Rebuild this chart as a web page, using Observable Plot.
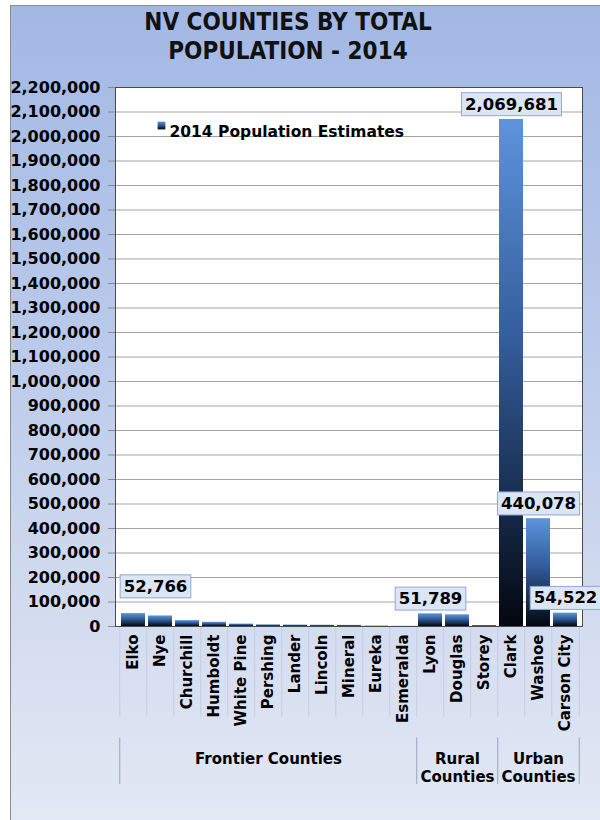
<!DOCTYPE html>
<html>
<head>
<meta charset="utf-8">
<script src="https://cdn.jsdelivr.net/npm/d3@7"></script>
<script src="https://cdn.jsdelivr.net/npm/@observablehq/plot@0.6"></script>
<style>
  body { margin: 0; background: white; }
  #chart { position: relative; width: 600px; height: 820px; overflow: hidden; background: white; font-family: "DejaVu Sans", Verdana, sans-serif; }
  #bg { position: absolute; left: 10px; top: 5px; right: 0; bottom: 0; border-left: 1px solid #8c8c8c; border-top: 1px solid #8c8c8c;
        background: linear-gradient(to bottom, #a2b8e4 0%, #b9c9ea 40%, #d3dcef 75%, #e2e8f4 100%); }
  #title { position: relative; height: 72px; box-sizing: border-box; padding-top: 8px; padding-right: 24px; text-align: center;
           font-size: 24px; line-height: 29px; font-weight: bold; font-stretch: condensed; color: #111; }
  #plot { position: relative; }
</style>
</head>
<body>
<div id="chart">
  <div id="bg"></div>
  <div id="title">NV COUNTIES BY TOTAL<br>POPULATION - 2014</div>
  <div id="plot"></div>
</div>
<script>
// ---- data ----
const counties = ["Elko","Nye","Churchill","Humboldt","White Pine","Pershing","Lander","Lincoln","Mineral","Eureka","Esmeralda","Lyon","Douglas","Storey","Clark","Washoe","Carson City"];
const population = [52766, 43000, 24000, 17000, 10000, 6700, 5900, 5200, 4500, 2000, 850, 51789, 47700, 4000, 2069681, 440078, 54522];
const labelledCounties = ["Lyon","Clark","Washoe","Carson City"];
const raisedLabelCounties = ["Elko"];
const groupNames = ["Frontier Counties","Rural\nCounties","Urban\nCounties"];
const groupMiddle = ["Pershing","Douglas","Washoe"];
const groupStarts = ["Elko","Lyon","Clark"];
const yTicks = d3.range(0, 2200001, 100000);
const seriesName = "2014 Population Estimates";

const data = counties.map((c, i) => ({county: c, pop: population[i]}));
const lab = d => ({county: d.county, pop: d.pop, text: d3.format(",")(d.pop)});
const labelData = data.filter(d => labelledCounties.includes(d.county)).map(lab);
const raisedData = data.filter(d => raisedLabelCounties.includes(d.county)).map(lab);
const groups = groupNames.map((g, i) => ({name: g, mid: groupMiddle[i]}));

const W = 600, H = 748;
const marginLeft = 115, marginRight = 18, marginTop = 15, marginBottom = 194;
const step = (W - marginLeft - marginRight) / counties.length;
const fmt = d3.format(",");

const defs = () => {
  const d = d3.create("svg:defs");
  const g = d.append("linearGradient").attr("id", "barGrad").attr("x1", 0).attr("y1", 0).attr("x2", 0).attr("y2", 1);
  g.append("stop").attr("offset", "0%").attr("stop-color", "#5d94dc");
  g.append("stop").attr("offset", "45%").attr("stop-color", "#325b99");
  g.append("stop").attr("offset", "100%").attr("stop-color", "#03070f");
  return d.node();
};

const plot = Plot.plot({
  width: W, height: H,
  marginLeft, marginRight, marginTop, marginBottom,
  style: {background: "transparent", fontFamily: "'DejaVu Sans', Verdana, sans-serif", overflow: "visible", color: "black"},
  x: {domain: counties, paddingInner: 0.12, paddingOuter: 0.06, axis: null},
  y: {domain: [0, 2200000], axis: null},
  marks: [
    defs,
    Plot.frame({fill: "white", stroke: "none"}),
    Plot.gridY({ticks: yTicks, stroke: "#a3a3a3", strokeOpacity: 1}),
    // category separators under the plot
    Plot.ruleX(counties, {x: d => d, dx: -step / 2, y1: 0, y2: -370000, stroke: "#c4cde0"}),
    Plot.ruleX(counties.slice(-1), {x: d => d, dx: step / 2, y1: 0, y2: -370000, stroke: "#c4cde0"}),
    // group separators
    Plot.ruleX(groupStarts, {x: d => d, dx: -step / 2, y1: -455000, y2: -645000, stroke: "#98a4bc"}),
    Plot.ruleX(counties.slice(-1), {x: d => d, dx: step / 2, y1: -455000, y2: -645000, stroke: "#98a4bc"}),
    Plot.barY(data, {x: "county", y: "pop", fill: "url(#barGrad)"}),
    Plot.frame({stroke: "#4a4a4a", strokeWidth: 1}),
    Plot.axisY({ticks: yTicks, tickFormat: fmt, label: null, tickSize: 7, tickPadding: 8, fontSize: 16, fontWeight: "bold", stroke: "#8a8a8a", fill: "black"}),
    Plot.axisX({label: null, tickRotate: -90, tickSize: 0, tickPadding: 8, fontSize: 15, fontWeight: "bold", fill: "black"}),
    Plot.text(groups, {x: "mid", text: "name", frameAnchor: "bottom", lineAnchor: "top", dy: 124, fontSize: 15, fontWeight: "bold", lineHeight: 1.22, fill: "black"}),
    // legend
    Plot.dot([seriesName], {frameAnchor: "top-left", dx: 46, dy: 38, symbol: "square", r: 4.4, fill: "url(#barGrad)", stroke: "none"}),
    Plot.text([seriesName], {frameAnchor: "top-left", dx: 54, dy: 38, text: d => d, textAnchor: "start", fontSize: 15.5, fontWeight: "bold", fill: "black"}),
    // value labels
    Plot.text(labelData, {x: "county", y: "pop", text: "text", dy: -15, fontSize: 16.5, fontWeight: "bold", fill: "black", className: "vlabel"}),
    Plot.text(raisedData, {x: "county", y: "pop", text: "text", dy: -27, dx: 22, fontSize: 16.5, fontWeight: "bold", fill: "black", className: "vlabel"})
  ]
});

document.getElementById("plot").appendChild(plot);

// boxes behind value labels
d3.select(plot).selectAll("g.vlabel text").each(function() {
  const b = this.getBBox();
  const padX = 3.5, padY = 2;
  const r = document.createElementNS("http://www.w3.org/2000/svg", "rect");
  r.setAttribute("x", b.x - padX);
  r.setAttribute("y", b.y - padY);
  r.setAttribute("width", b.width + 2 * padX);
  r.setAttribute("height", b.height + 2 * padY);
  r.setAttribute("fill", "#dbe5f4");
  r.setAttribute("stroke", "#8fa8d6");
  r.setAttribute("stroke-width", 1);
  const t = this.getAttribute("transform");
  if (t) r.setAttribute("transform", t);
  this.parentNode.insertBefore(r, this);
});
</script>
</body>
</html>
